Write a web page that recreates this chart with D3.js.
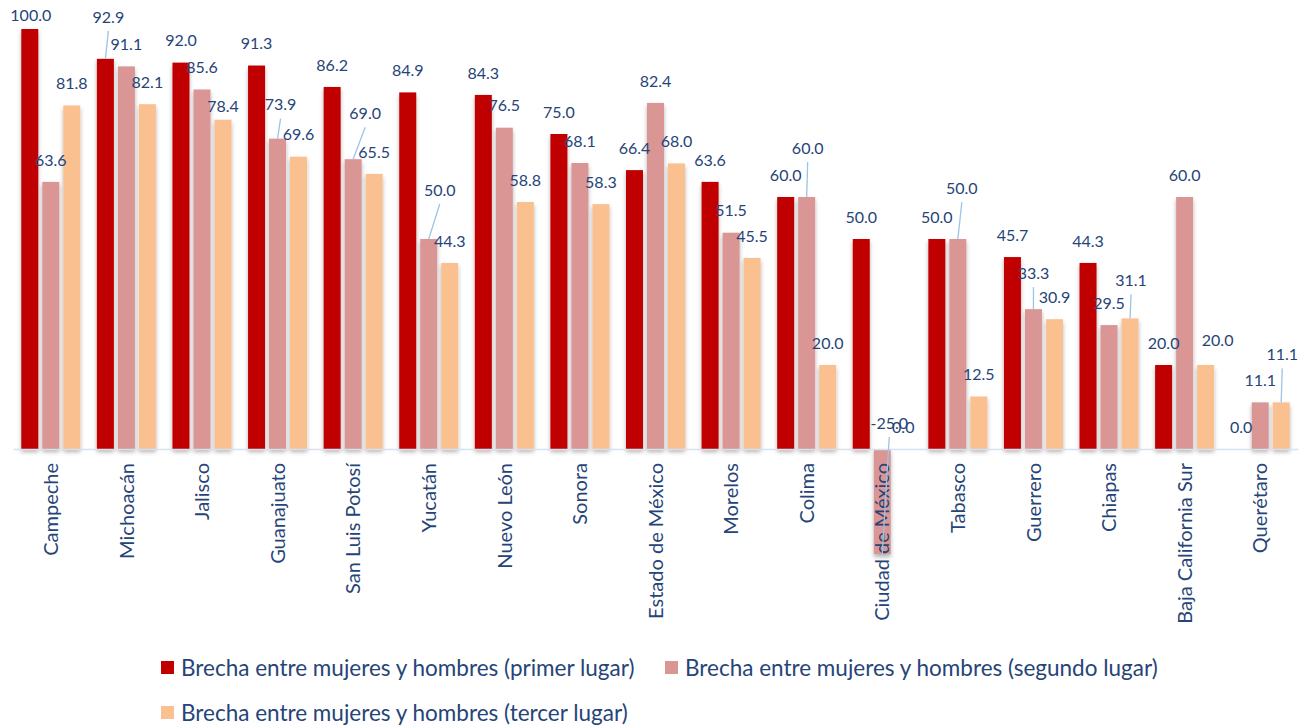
<!DOCTYPE html>
<html>
<head>
<meta charset="utf-8">
<script src="https://cdn.jsdelivr.net/npm/d3@7"></script>
<style>
  html, body { margin: 0; padding: 0; background: #fff; }
  svg { display: block; }
</style>
</head>
<body>
<svg id="chart" width="1307" height="726"></svg>
<script>
// ---- Data ----
const categories = ["Campeche","Michoacán","Jalisco","Guanajuato","San Luis Potosí","Yucatán","Nuevo León","Sonora","Estado de México","Morelos","Colima","Ciudad de México","Tabasco","Guerrero","Chiapas","Baja California Sur","Querétaro"];
const primerLugar  = [100.0, 92.9, 92.0, 91.3, 86.2, 84.9, 84.3, 75.0, 66.4, 63.6, 60.0, 50.0, 50.0, 45.7, 44.3, 20.0, 0.0];
const segundoLugar = [63.6, 91.1, 85.6, 73.9, 69.0, 50.0, 76.5, 68.1, 82.4, 51.5, 60.0, -25.0, 50.0, 33.3, 29.5, 60.0, 11.1];
const tercerLugar  = [81.8, 82.1, 78.4, 69.6, 65.5, 44.3, 58.8, 58.3, 68.0, 45.5, 20.0, 0.0, 12.5, 30.9, 31.1, 20.0, 11.1];
const seriesNames = [
  "Brecha entre mujeres y hombres (primer lugar)",
  "Brecha entre mujeres y hombres (segundo lugar)",
  "Brecha entre mujeres y hombres (tercer lugar)"
];

// ---- Label placement adjustments (series, category, dx, dy, leader) ----
const labelNudges = [
  [0, 0, 1, 8, false],
  [0, 1, 3, -20, true],
  [2, 2, 0, 9, false],
  [1, 3, 3, -12, true],
  [1, 4, 12, -24, true],
  [1, 5, 11, -27, true],
  [1, 10, 1, -27, true],
  [1, 11, 7, -153, true],
  [1, 12, 4, -29, true],
  [1, 13, 0, -14, true],
  [2, 14, 1, -16, true],
  [2, 15, 12, -3, false],
  [2, 16, 1, -26, true],
  [0, 16, 2, 0, false]
];

const colors = ["#C00000", "#D99694", "#FAC090"];
const textColor = "#264478";
const fontFamily = "Lato, 'Open Sans', sans-serif";

const allSeries = [primerLugar, segundoLugar, tercerLugar];
const fmt = v => d3.format(".1f")(v).replace("\u2212", "-");

const svg = d3.select("#chart");
const defs = svg.append("defs");
const filt = defs.append("filter").attr("id", "shadow")
  .attr("x", "-30%").attr("y", "-10%").attr("width", "160%").attr("height", "130%");
filt.append("feDropShadow").attr("dx", 0).attr("dy", 3).attr("stdDeviation", 2)
  .attr("flood-color", "#000").attr("flood-opacity", 0.3);

const x0 = d3.scaleBand().domain(categories).range([13, 1298]).paddingInner(0).paddingOuter(0);
const groupW = 59;
const x1 = d3.scaleBand().domain([0, 1, 2]).range([0, groupW]).paddingInner(4 / 21).paddingOuter(0);
const y = d3.scaleLinear().domain([-25, 100]).range([554, 29]);

const groupStart = c => x0(c) + (x0.bandwidth() - groupW) / 2;

// Bars
const rows = [];
categories.forEach((c, ci) => {
  allSeries.forEach((s, si) => {
    rows.push({ c, ci, si, v: s[ci] });
  });
});

svg.append("g").attr("filter", "url(#shadow)")
  .selectAll("rect").data(rows).join("rect")
  .attr("x", d => groupStart(d.c) + x1(d.si))
  .attr("width", x1.bandwidth())
  .attr("y", d => y(Math.max(0, d.v)))
  .attr("height", d => Math.abs(y(d.v) - y(0)))
  .attr("fill", d => colors[d.si]);

// Axis line (zero)
const xAxis = d3.axisBottom(x0).tickSize(0).tickFormat("");
const axisG = svg.append("g").attr("transform", `translate(0,${y(0)})`).call(xAxis);
axisG.select(".domain").attr("stroke", "#D6E2F0").attr("stroke-width", 1.5);

// Category labels
svg.append("g").selectAll("text").data(categories).join("text")
  .attr("transform", c => `translate(${x0(c) + x0.bandwidth() / 2},463) rotate(-90)`)
  .attr("dy", "0.36em")
  .attr("text-anchor", "end")
  .attr("fill", textColor)
  .attr("font-family", fontFamily)
  .attr("font-size", 20)
  .text(c => c);

// Value labels
const labelData = rows.map(d => {
  const cx = groupStart(d.c) + x1(d.si) + x1.bandwidth() / 2;
  const end = y(d.v);
  let lx = cx, ly = d.v >= 0 ? end - 22 : end + 22;
  let leader = false;
  labelNudges.forEach(n => {
    if (n[0] === d.si && n[1] === d.ci) { lx += n[2]; ly += n[3]; leader = n[4]; }
  });
  return { ...d, cx, end, lx, ly, leader };
});

svg.append("g").selectAll("line").data(labelData.filter(d => d.leader)).join("line")
  .attr("x1", d => d.lx).attr("y1", d => d.ly + 14)
  .attr("x2", d => d.cx).attr("y2", d => d.end)
  .attr("stroke", "#9DC3E6").attr("stroke-width", 1.3);

svg.append("g").selectAll("text").data(labelData).join("text")
  .attr("x", d => d.lx).attr("y", d => d.ly)
  .attr("dy", "0.36em")
  .attr("text-anchor", "middle")
  .attr("fill", textColor)
  .attr("font-family", fontFamily)
  .attr("font-size", 16)
  .text(d => fmt(d.v));

// Legend
const legendPos = [[161, 668], [665, 668], [161, 713]];
const lg = svg.append("g").selectAll("g").data(seriesNames).join("g")
  .attr("transform", (d, i) => `translate(${legendPos[i][0]},${legendPos[i][1]})`);
lg.append("rect").attr("x", 0).attr("y", -7).attr("width", 13).attr("height", 13)
  .attr("fill", (d, i) => colors[i]);
lg.append("text").attr("x", 20).attr("y", 0).attr("dy", "0.36em")
  .attr("fill", textColor).attr("font-family", fontFamily).attr("font-size", 22.5)
  .text(d => d);
</script>
</body>
</html>
